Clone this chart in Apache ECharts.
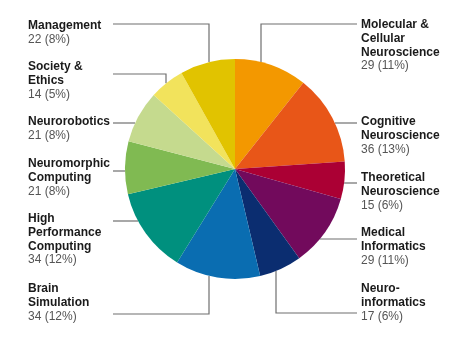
<!DOCTYPE html>
<html>
<head>
<meta charset="utf-8">
<title>Projects by research area</title>
<script src="https://cdn.jsdelivr.net/npm/echarts@6/dist/echarts.min.js"></script>
<style>
  html, body { margin: 0; padding: 0; background: #ffffff; }
  #chart { width: 460px; height: 338px; }
</style>
</head>
<body>
<div id="chart"></div>
<script>
// Research areas, clockwise from 12 o'clock
const areas = [
  'Molecular &\nCellular\nNeuroscience',
  'Cognitive\nNeuroscience',
  'Theoretical\nNeuroscience',
  'Medical\nInformatics',
  'Neuro-\ninformatics',
  'Brain\nSimulation',
  'High\nPerformance\nComputing',
  'Neuromorphic\nComputing',
  'Neurorobotics',
  'Society &\nEthics',
  'Management'
];
// Number of projects per area
const projects = [29, 36, 15, 29, 17, 34, 34, 21, 21, 14, 22];
// Share labels as printed
const shares = ['11%', '13%', '6%', '11%', '6%', '12%', '12%', '8%', '8%', '5%', '8%'];

const sliceColors = [
  '#f39800', '#e85618', '#ab0034', '#720a5c', '#0b2d70', '#0a6db1',
  '#00907e', '#80ba52', '#c5da8e', '#f2e35c', '#e1c300'
];

// Pie geometry (px)
const CX = 235, CY = 169, R = 110;

// Label placement: [textX, textTop, leaderY, elbowX (null = straight leader)]
const labelSpots = [
  [361, 18, 24, 261],
  [361, 115, 123, null],
  [361, 171, 183, null],
  [361, 226, 239, null],
  [361, 282, 313, 276],
  [28, 282, 314, 209],
  [28, 212, 221, null],
  [28, 157, 171, null],
  [28, 115, 123, null],
  [28, 60, 74, 166],
  [28, 19, 24, 209]
];

const chart = echarts.init(document.getElementById('chart'), null, { renderer: 'canvas' });

const data = areas.map((name, i) => ({
  name: name,
  value: projects[i],
  itemStyle: { color: sliceColors[i] }
}));

// Leader polyline: from the slice edge to the label, either straight or with one elbow
function leader(i) {
  const s = labelSpots[i];
  const right = s[0] > CX;
  const lineEndX = right ? 357 : 113;
  const ly = s[2];
  if (s[3] === null) {
    const dx = Math.sqrt(Math.max(0, R * R - (ly - CY) * (ly - CY)));
    const ex = right ? CX + dx : CX - dx;
    return [[ex, ly], [(ex + lineEndX) / 2, ly], [lineEndX, ly]];
  }
  const ex = s[3];
  const dy = Math.sqrt(Math.max(0, R * R - (ex - CX) * (ex - CX)));
  const ey = ly < CY ? CY - dy : CY + dy;
  return [[ex, ey], [ex, ly], [lineEndX, ly]];
}

chart.setOption({
  backgroundColor: '#ffffff',
  animation: false,
  textStyle: { fontFamily: '"Liberation Sans", Arial, Helvetica, sans-serif' },
  series: [{
    type: 'pie',
    center: [CX, CY],
    radius: R,
    startAngle: 90,
    clockwise: true,
    data: data,
    itemStyle: { borderWidth: 0 },
    emphasis: { disabled: true },
    label: {
      show: true,
      position: 'outside',
      formatter: p => '{n|' + p.name + '}\n{v|' + p.value + ' (' + shares[p.dataIndex] + ')}',
      rich: {
        n: { fontSize: 12, fontWeight: 'bold', color: '#1a1a1a', lineHeight: 13.7,
             fontFamily: '"Liberation Sans", Arial, Helvetica, sans-serif' },
        v: { fontSize: 12, color: '#555555', lineHeight: 13.7,
             fontFamily: '"Liberation Sans", Arial, Helvetica, sans-serif' }
      }
    },
    labelLine: {
      show: true,
      length: 10,
      length2: 10,
      smooth: false,
      lineStyle: { color: '#6f6f6f', width: 1.2 }
    },
    labelLayout: function (params) {
      const i = params.dataIndex;
      const s = labelSpots[i];
      return {
        x: s[0],
        y: s[1],
        align: 'left',
        verticalAlign: 'top',
        labelLinePoints: leader(i)
      };
    }
  }]
});
</script>
</body>
</html>
